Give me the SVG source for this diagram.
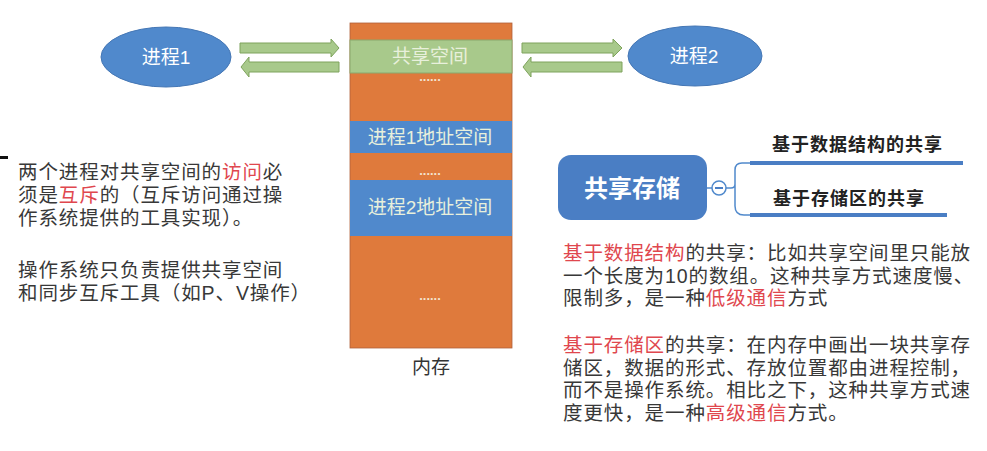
<svg xmlns="http://www.w3.org/2000/svg" width="987" height="451" viewBox="0 0 987 451">
<style>
.cjk{font-family:"Liberation Sans","Noto Sans CJK SC",sans-serif}
.wt{fill:#ffffff;font-size:19px}
.mem{fill:#e8f0dc;font-size:19px}
.dots{fill:#f3e3d0;font-size:13px;font-weight:bold}
.body{fill:#383838;font-size:19.5px;letter-spacing:0.9px}
.red{fill:#e0474e}
.mm{fill:#222222;font-size:18px;font-weight:bold;letter-spacing:1px}
.arrow{fill:#a8c98b;stroke:#7ea35c;stroke-width:1}
.org{fill:#df7a3c}
.blu{fill:#5089cc}
</style>
<rect width="987" height="451" fill="#ffffff"/>
<rect x="0" y="156" width="8" height="3" fill="#111"/>

<g id="memory">
  <rect x="350" y="23" width="162" height="325" class="org" stroke="#b0603a" stroke-width="0.8"/>
  <rect x="350" y="40" width="162" height="33" fill="#a8c98b" stroke="#8aa86c" stroke-width="1"/>
  <text x="430" y="63" text-anchor="middle" class="cjk mem">共享空间</text>
  <text x="430" y="81" text-anchor="middle" class="cjk dots">......</text>
  <rect x="350" y="121" width="162" height="32" class="blu"/>
  <text x="430" y="144" text-anchor="middle" class="cjk mem">进程1地址空间</text>
  <text x="430" y="175" text-anchor="middle" class="cjk dots">......</text>
  <rect x="350" y="180" width="162" height="56" class="blu"/>
  <text x="430" y="214" text-anchor="middle" class="cjk mem">进程2地址空间</text>
  <text x="430" y="300" text-anchor="middle" class="cjk dots">......</text>
  <text x="431" y="374" text-anchor="middle" class="cjk" fill="#333" font-size="19">内存</text>
</g>

<g id="process1">
  <ellipse cx="166" cy="57" rx="65" ry="30" fill="#5089cc" stroke="#4577b5" stroke-width="1"/>
  <text x="166" y="64" text-anchor="middle" class="cjk wt">进程1</text>
</g>

<g id="process2">
  <ellipse cx="695" cy="56" rx="67" ry="30" fill="#5089cc" stroke="#4577b5" stroke-width="1"/>
  <text x="694" y="63" text-anchor="middle" class="cjk wt">进程2</text>
</g>

<g id="connectors">
  <polygon class="arrow" points="240,43 331,43 331,39 339,48 331,57 331,53 240,53"/>
  <polygon class="arrow" points="339,62 249,62 249,57 241,67 249,77 249,72 339,72"/>
  <polygon class="arrow" points="522,43 613,43 613,39 622,48 613,57 613,53 522,53"/>
  <polygon class="arrow" points="622,62 531,62 531,57 523,67 531,77 531,72 622,72"/>
  <path d="M707,188 H712" stroke="#5089cc" stroke-width="1.5" fill="none"/>
  <path d="M726,188 H731 Q735,188 735,184 M750,163 H742 Q735,163 735,170 V206 Q735,215 744,215 H750" stroke="#5089cc" stroke-width="1.5" fill="none"/>
  <line x1="750" y1="163" x2="963" y2="163" stroke="#4a7ec4" stroke-width="4"/>
  <line x1="750" y1="215" x2="947" y2="215" stroke="#4a7ec4" stroke-width="4"/>
</g>

<g id="shared-storage">
  <rect x="558" y="155" width="149" height="65" rx="13" fill="#4a7ec4"/>
  <text x="632" y="197" text-anchor="middle" class="cjk" fill="#fff" font-size="24" font-weight="bold">共享存储</text>
  <circle cx="719" cy="188" r="7" fill="#fff" stroke="#5089cc" stroke-width="1.5"/>
  <line x1="715" y1="188" x2="723" y2="188" stroke="#4a7ec4" stroke-width="2"/>
</g>

<g id="branch1">
  <text x="772" y="151" class="cjk mm">基于数据结构的共享</text>
</g>
<g id="branch2">
  <text x="773" y="205" class="cjk mm">基于存储区的共享</text>
</g>

<g id="left-text">
  <text class="cjk body"><tspan x="18" y="179">两个进程对共享空间的<tspan class="red">访问</tspan>必</tspan><tspan x="18" y="202">须是<tspan class="red">互斥</tspan>的（互斥访问通过操</tspan><tspan x="18" y="225">作系统提供的工具实现）。</tspan></text>
  <text class="cjk body"><tspan x="18" y="277">操作系统只负责提供共享空间</tspan><tspan x="18" y="300">和同步互斥工具（如P、V操作）</tspan></text>
</g>

<g id="right-text">
  <text class="cjk body"><tspan x="563" y="260"><tspan class="red">基于数据结构</tspan>的共享：比如共享空间里只能放</tspan><tspan x="563" y="283">一个长度为10的数组。这种共享方式速度慢、</tspan><tspan x="563" y="305">限制多，是一种<tspan class="red">低级通信</tspan>方式</tspan></text>
  <text class="cjk body"><tspan x="563" y="352"><tspan class="red">基于存储区</tspan>的共享：在内存中画出一块共享存</tspan><tspan x="563" y="375">储区，数据的形式、存放位置都由进程控制，</tspan><tspan x="563" y="397">而不是操作系统。相比之下，这种共享方式速</tspan><tspan x="563" y="420">度更快，是一种<tspan class="red">高级通信</tspan>方式。</tspan></text>
</g>
</svg>
